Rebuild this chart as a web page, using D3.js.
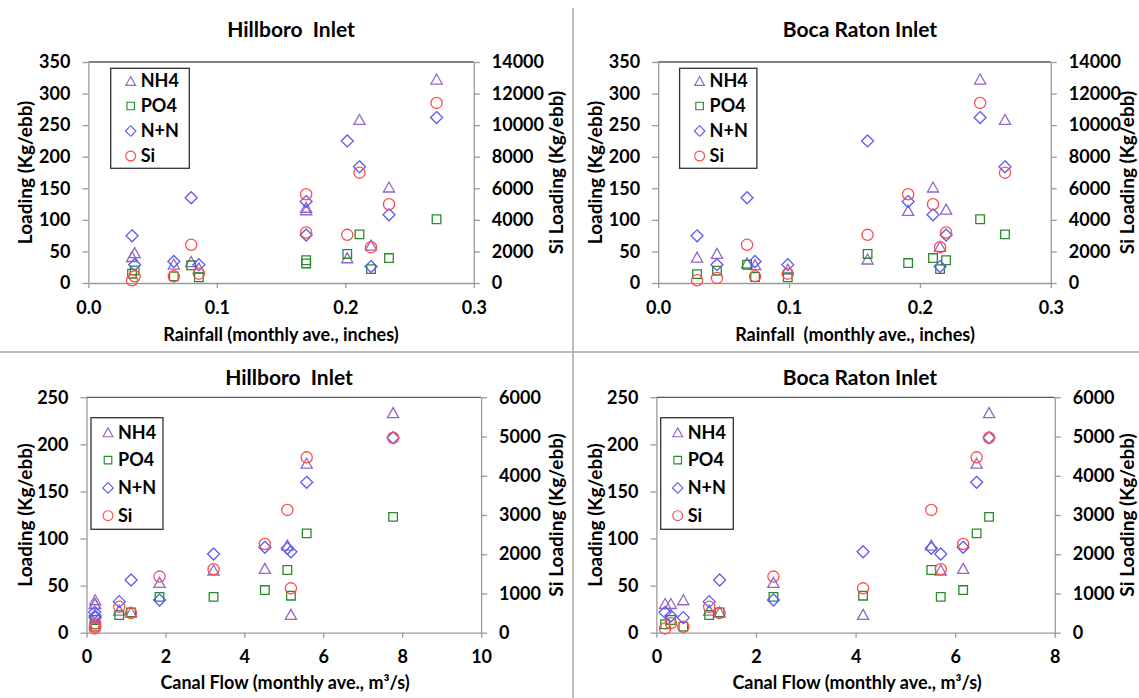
<!DOCTYPE html>
<html>
<head>
<meta charset="utf-8">
<script src="https://cdn.jsdelivr.net/npm/d3@7"></script>
<style>
  body { margin: 0; background: #fff; overflow: hidden; }
  svg { display: block; font-family: Lato, "Open Sans", sans-serif; font-weight: bold; }
  .title { white-space: pre; }
</style>
</head>
<body>
<div id="chart"></div>
<script>
// Series names (legend order)
var series = ["NH4", "PO4", "N+N", "Si"];

// Hillboro Inlet vs rainfall
var hillRainX   = [0.034, 0.036, 0.0665, 0.080, 0.086, 0.1695, 0.1695, 0.2015, 0.211, 0.220, 0.234, 0.271];
var hillRainNH4 = [42, 48, 30, 34, 24, 116, 120, 40, 259, 60, 152, 323];
var hillRainPO4 = [14.7, 20, 10.5, 28, 9, 31, 36, 46, 77, 22, 39.5, 101];
var hillRainNN  = [74.7, 29, 34, 135, 29, 129, 76, 225, 184, 26, 108, 262];
var hillRainSi  = [170, 420, 420, 2420, 590, 5620, 3200, 3050, 6990, 2270, 4990, 11410];

// Boca Raton Inlet vs rainfall
var bocaRainX   = [0.0297, 0.0449, 0.0679, 0.074, 0.099, 0.160, 0.191, 0.210, 0.2154, 0.220, 0.246, 0.265];
var bocaRainNH4 = [41, 47, 32, 29, 22, 38, 115, 152, 58, 117, 323, 259];
var bocaRainPO4 = [14, 19.5, 29, 9.5, 9, 46, 31.6, 39.5, 22, 36, 101, 77];
var bocaRainNN  = [74.7, 29, 135, 34, 29, 225, 129, 108, 26, 76, 262, 184];
var bocaRainSi  = [170, 320, 2420, 420, 590, 3050, 5620, 4990, 2270, 3200, 11410, 6990];

// Hillboro Inlet vs canal flow
var hillFlowX   = [0.21, 0.22, 0.22, 0.83, 1.13, 1.85, 3.22, 4.52, 5.09, 5.18, 5.58, 7.77];
var hillFlowNH4 = [31, 31, 35, 24, 22, 53.5, 66.6, 68.3, 93, 19.5, 180, 233.7];
var hillFlowPO4 = [9, 13.5, 6.4, 18.8, 21.6, 38, 38, 45.3, 66.6, 39.3, 105.5, 123];
var hillFlowNN  = [21.6, 17.7, 16, 33, 56, 34.7, 83.6, 90.7, 89.6, 86, 159.7, 207];
var hillFlowSi  = [110, 240, 150, 660, 500, 1430, 1620, 2260, 3130, 1130, 4470, 4970];

// Boca Raton Inlet vs canal flow
var bocaFlowX   = [0.175, 0.29, 0.54, 1.06, 1.27, 2.35, 4.15, 5.52, 5.71, 6.16, 6.43, 6.68];
var bocaFlowNH4 = [31, 31, 35, 24, 22, 53.5, 19.5, 93, 66.6, 68.3, 180, 233.7];
var bocaFlowPO4 = [9, 13.5, 6.4, 18.8, 21.6, 38, 39.3, 66.6, 38, 45.3, 105.5, 123];
var bocaFlowNN  = [21.6, 17.7, 16, 33, 56, 34.7, 86, 89.6, 83.6, 90.7, 159.7, 207];
var bocaFlowSi  = [110, 240, 150, 660, 500, 1430, 1130, 3130, 1620, 2260, 4470, 4970];

// Axis tick values
var rainTicks = [0, 0.1, 0.2, 0.3];
var rainLoadTicks = [0, 50, 100, 150, 200, 250, 300, 350];
var rainSiTicks = [0, 2000, 4000, 6000, 8000, 10000, 12000, 14000];
var hillFlowTicks = [0, 2, 4, 6, 8, 10];
var bocaFlowTicks = [0, 2, 4, 6, 8];
var flowLoadTicks = [0, 50, 100, 150, 200, 250];
var flowSiTicks = [0, 1000, 2000, 3000, 4000, 5000, 6000];

// Marker styles
var colors = { "NH4": "#9466c8", "PO4": "#2a8a2a", "N+N": "#5c5cf2", "Si": "#ff4d4d" };
var shapes = {
  "NH4": "M0,-5L5.6,5L-5.6,5Z",
  "PO4": "M-4.3,-4.3h8.6v8.6h-8.6Z",
  "N+N": "M0,-6L6,0L0,6L-6,0Z",
  "Si":  "M5.6,0A5.6,5.6 0 1,1 -5.6,0A5.6,5.6 0 1,1 5.6,0Z"
};

var svg = d3.select("#chart")
  .append("svg")
  .attr("width", 1139)
  .attr("height", 698);

// Panel dividers
svg.append("line")
  .attr("x1", 573).attr("x2", 573).attr("y1", 8).attr("y2", 698)
  .attr("stroke", "#a6a6a6").attr("stroke-width", 1.5);
svg.append("line")
  .attr("x1", 0).attr("x2", 1139).attr("y1", 352).attr("y2", 352)
  .attr("stroke", "#a6a6a6").attr("stroke-width", 1.5);

var panels = [
  {
    title: "Hillboro  Inlet", xLabel: "Rainfall (monthly ave., inches)",
    x: hillRainX, ys: [hillRainNH4, hillRainPO4, hillRainNN, hillRainSi],
    xTicks: rainTicks, xFmt: d3.format(".1f"), yTicks: rainLoadTicks, siTicks: rainSiTicks,
    left: 88.4, right: 473.8, top: 62, bottom: 283,
    titleX: 291, titleY: 37, labelX: 281, labelY: 341,
    yLabelX: 32, siLabelX: 563,
    legend: { x: 110.7, y: 68.3, w: 78.6, h: 100, first: 12.7, row: 25, sx: 20, tx: 30 }
  },
  {
    title: "Boca Raton Inlet", xLabel: "Rainfall  (monthly ave., inches)",
    x: bocaRainX, ys: [bocaRainNH4, bocaRainPO4, bocaRainNN, bocaRainSi],
    xTicks: rainTicks, xFmt: d3.format(".1f"), yTicks: rainLoadTicks, siTicks: rainSiTicks,
    left: 658.2, right: 1050.8, top: 62, bottom: 283,
    titleX: 860, titleY: 37, labelX: 855, labelY: 341,
    yLabelX: 602, siLabelX: 1134,
    legend: { x: 679.6, y: 68.3, w: 77.3, h: 100, first: 12.7, row: 25, sx: 20, tx: 30 }
  },
  {
    title: "Hillboro  Inlet", xLabel: "Canal Flow (monthly ave., m\u00b3/s)",
    x: hillFlowX, ys: [hillFlowNH4, hillFlowPO4, hillFlowNN, hillFlowSi],
    xTicks: hillFlowTicks, xFmt: d3.format("d"), yTicks: flowLoadTicks, siTicks: flowSiTicks,
    left: 86.5, right: 481.1, top: 397.3, bottom: 632.7,
    titleX: 289, titleY: 385, labelX: 285, labelY: 689,
    yLabelX: 32, siLabelX: 563,
    legend: { x: 91, y: 417.7, w: 72, h: 111.6, first: 14.6, row: 27.8, sx: 17, tx: 27 }
  },
  {
    title: "Boca Raton Inlet", xLabel: "Canal Flow (monthly ave., m\u00b3/s)",
    x: bocaFlowX, ys: [bocaFlowNH4, bocaFlowPO4, bocaFlowNN, bocaFlowSi],
    xTicks: bocaFlowTicks, xFmt: d3.format("d"), yTicks: flowLoadTicks, siTicks: flowSiTicks,
    left: 656.4, right: 1054.8, top: 397.3, bottom: 632.7,
    titleX: 860, titleY: 385, labelX: 857, labelY: 689,
    yLabelX: 602, siLabelX: 1134,
    legend: { x: 660.7, y: 417.7, w: 72.6, h: 111.6, first: 14.6, row: 27.8, sx: 17, tx: 27 }
  }
];

panels.forEach(drawPanel);

function styleAxis(g) {
  g.attr("font-family", null).attr("font-size", 18).attr("font-weight", "bold");
  g.select(".domain").attr("stroke", "#9a9a9a").attr("stroke-width", 1.3);
  g.selectAll(".tick line").attr("stroke", "#9a9a9a").attr("stroke-width", 1.3);
  g.selectAll(".tick text").attr("fill", "#000");
}

function drawPanel(p) {
  var xScale = d3.scaleLinear()
    .domain([0, d3.max(p.xTicks)])
    .range([p.left, p.right]);
  var yScale = d3.scaleLinear()
    .domain([0, d3.max(p.yTicks)])
    .range([p.bottom, p.top]);
  var siScale = d3.scaleLinear()
    .domain([0, d3.max(p.siTicks)])
    .range([p.bottom, p.top]);

  // Plot area top border
  svg.append("line")
    .attr("x1", p.left).attr("x2", p.right)
    .attr("y1", p.top).attr("y2", p.top)
    .attr("stroke", "#595959").attr("stroke-width", 1.3);

  // Axes
  svg.append("g")
    .attr("transform", `translate(0, ${p.bottom})`)
    .call(d3.axisBottom(xScale).tickValues(p.xTicks).tickFormat(p.xFmt)
      .tickSize(5).tickSizeOuter(0).tickPadding(13))
    .call(styleAxis);

  svg.append("g")
    .attr("transform", `translate(${p.left}, 0)`)
    .call(d3.axisLeft(yScale).tickValues(p.yTicks).tickFormat(d3.format("d"))
      .tickSize(6).tickSizeOuter(0).tickPadding(12))
    .call(styleAxis);

  svg.append("g")
    .attr("transform", `translate(${p.right}, 0)`)
    .call(d3.axisRight(siScale).tickValues(p.siTicks).tickFormat(d3.format("d"))
      .tickSize(6).tickSizeOuter(0).tickPadding(12))
    .call(styleAxis);

  // Titles and axis labels
  svg.append("text")
    .attr("class", "title")
    .attr("x", p.titleX).attr("y", p.titleY)
    .attr("text-anchor", "middle")
    .attr("font-size", 21)
    .text(p.title);

  svg.append("text")
    .attr("class", "title")
    .attr("x", p.labelX).attr("y", p.labelY)
    .attr("text-anchor", "middle")
    .attr("font-size", 18)
    .text(p.xLabel);

  var midY = (p.top + p.bottom) / 2;
  svg.append("text")
    .attr("transform", `translate(${p.yLabelX}, ${midY}) rotate(-90)`)
    .attr("text-anchor", "middle")
    .attr("font-size", 19)
    .text("Loading (Kg/ebb)");

  svg.append("text")
    .attr("transform", `translate(${p.siLabelX}, ${midY}) rotate(-90)`)
    .attr("text-anchor", "middle")
    .attr("font-size", 19)
    .text("Si Loading (Kg/ebb)");

  // Markers, one group per series (Si on the secondary axis)
  series.forEach(function(name, i) {
    var sc = name === "Si" ? siScale : yScale;
    svg.append("g")
      .selectAll("path")
      .data(p.ys[i])
      .enter()
      .append("path")
      .attr("d", shapes[name])
      .attr("transform", (d, j) => `translate(${xScale(p.x[j])}, ${sc(d)})`)
      .attr("fill", "none")
      .attr("stroke", colors[name])
      .attr("stroke-width", 1.3);
  });

  // Legend
  var lg = svg.append("g")
    .attr("transform", `translate(${p.legend.x}, ${p.legend.y})`);
  lg.append("rect")
    .attr("width", p.legend.w).attr("height", p.legend.h)
    .attr("fill", "#fff")
    .attr("stroke", "#333").attr("stroke-width", 1.3);
  series.forEach(function(name, i) {
    var ry = p.legend.first + i * p.legend.row;
    lg.append("path")
      .attr("d", shapes[name])
      .attr("transform", `translate(${p.legend.sx}, ${ry}) scale(0.88)`)
      .attr("fill", "none")
      .attr("stroke", colors[name])
      .attr("stroke-width", 1.3);
    lg.append("text")
      .attr("x", p.legend.tx).attr("y", ry)
      .attr("dy", "0.35em")
      .attr("font-size", 18)
      .text(name);
  });
}
</script>
</body>
</html>
